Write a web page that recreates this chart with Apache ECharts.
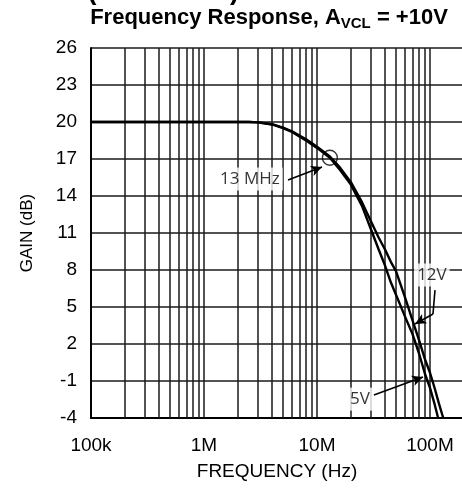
<!DOCTYPE html>
<html><head><meta charset="utf-8">
<script src="https://cdn.jsdelivr.net/npm/echarts@6/dist/echarts.min.js"></script>
<style>html,body{margin:0;padding:0;background:#fff}#c{width:462px;height:491px}</style>
</head><body><div id="c"></div>
<script>
// ---- data (frequency in Hz, gain in dB) ----
const freq5V  = [1e5, 1e6, 2.5e6, 3e6, 4e6, 5e6, 6e6, 8e6, 10e6, 13e6, 16e6, 20e6, 25e6, 30e6, 35e6, 40e6, 45e6, 50e6, 60e6, 70e6, 80e6, 90e6, 100e6, 110e6, 118e6];
const gain5V  = [20, 20, 20, 19.97, 19.8, 19.5, 19.2, 18.5, 17.9, 17.1, 16.1, 14.9, 13.2, 11.3, 9.7, 8.36, 7.0, 6.0, 4.24, 2.8, 1.23, -0.39, -1.56, -2.9, -4];
const freq12V = [1e5, 1e6, 2.5e6, 3e6, 4e6, 5e6, 6e6, 8e6, 10e6, 13e6, 16e6, 20e6, 25e6, 30e6, 35e6, 40e6, 45e6, 50e6, 60e6, 70e6, 80e6, 90e6, 100e6, 110e6, 120e6, 131e6];
const gain12V = [20, 20, 20, 19.97, 19.82, 19.55, 19.25, 18.6, 18.0, 17.2, 16.3, 15.1, 13.5, 11.95, 10.66, 9.66, 8.66, 7.91, 5.8, 3.92, 2.32, 0.79, -0.33, -1.59, -2.84, -4];
const xTickLabels = {1e5: '100k', 1e6: '1M', 1e7: '10M', 1e8: '100M', 1e9: '1G'};
const yTicks = [-4, -1, 2, 5, 8, 11, 14, 17, 20, 23, 26];
const cornerPoint = [13e6, 17.1];
const annotText = ['13 MHz', '12V', '5V'];
const annotPos = [[2.55e6, 15.38], [104e6, 7.59], [24e6, -2.47]];
const arrows = [
  [[5.54e6, 15.29], [11.07e6, 16.35], true],
  [[110.7e6, 6.37], [106.3e6, 4.43], false],
  [[106.3e6, 4.43], [73.7e6, 3.62], true],
  [[31.9e6, -2.14], [86.7e6, -0.68], true]
];
// minor log grid lines (2..9 x each decade)
const minorGrid = [];
[1e5, 1e6, 1e7, 1e8].forEach(d => { for (let m = 2; m <= 9; m++) minorGrid.push(m * d); });

const chart = echarts.init(document.getElementById('c'), null, {renderer: 'canvas'});
const gridCol = '#1a1a1a';
chart.setOption({
  animation: false,
  backgroundColor: '#fff',
  grid: {left: 91, top: 48, width: 452, height: 370, containLabel: false, outerBoundsMode: 'none'},
  xAxis: {
    type: 'log', logBase: 10, min: 1e5, max: 1e9,
    axisLine: {show: true, onZero: false, lineStyle: {color: '#000', width: 2}},
    axisTick: {show: false},
    axisLabel: {fontFamily: 'Liberation Sans', fontSize: 19, color: '#000', margin: 18,
      formatter: v => xTickLabels[Math.round(v)] || ''},
    splitLine: {show: true, lineStyle: {color: gridCol, width: 1.5}},
    minorTick: {show: false}, minorSplitLine: {show: false}
  },
  yAxis: {
    type: 'value', min: -4, max: 26, interval: 3,
    name: 'GAIN (dB)', nameLocation: 'middle', nameGap: 55,
    nameTextStyle: {fontFamily: 'Liberation Sans', fontSize: 17, color: '#000'},
    axisLine: {show: true, onZero: false, lineStyle: {color: '#000', width: 2}},
    axisTick: {show: false},
    axisLabel: {fontFamily: 'Liberation Sans', fontSize: 19, color: '#000', margin: 14,
      formatter: v => yTicks.includes(v) ? String(v) : ''},
    splitLine: {show: true, lineStyle: {color: gridCol, width: 1.5}}
  },
  graphic: [
    {type: 'text', x: 239, y: 5, style: {
      text: 'Typical Performance Characteristics (Continued)', align: 'right', verticalAlign: 'bottom',
      font: 'bold 27px "Liberation Sans"', fill: '#000'}},
    {type: 'text', x: 269, y: 18, style: {
      text: '{a|Frequency Response, A}{s|VCL}{a| = +10V}', align: 'center', verticalAlign: 'middle',
      rich: {
        a: {fontFamily: 'Liberation Sans', fontWeight: 'bold', fontSize: 22, lineHeight: 26, fill: '#000', color: '#000'},
        s: {fontFamily: 'Liberation Sans', fontWeight: 'bold', fontSize: 15, lineHeight: 14, verticalAlign: 'bottom', fill: '#000', color: '#000'}
      }}},
    {type: 'text', x: 277, y: 472, style: {
      text: 'FREQUENCY (Hz)', align: 'center', verticalAlign: 'middle',
      font: '19px "Liberation Sans"', fill: '#000'}}
  ],
  series: [
    {type: 'line', name: 'grid', data: [], silent: true,
      markLine: {silent: true, symbol: ['none', 'none'], label: {show: false},
        lineStyle: {color: gridCol, width: 1.5, type: 'solid'},
        data: minorGrid.map(f => ({xAxis: f}))}},
    {type: 'line', name: '5V', data: freq5V.map((f, i) => [f, gain5V[i]]), showSymbol: false,
      lineStyle: {color: '#000', width: 2.4}, z: 5},
    {type: 'line', name: '12V', data: freq12V.map((f, i) => [f, gain12V[i]]), showSymbol: false,
      lineStyle: {color: '#000', width: 2.4}, z: 5},
    {type: 'scatter', data: [cornerPoint], symbol: 'circle', symbolSize: 15, z: 6,
      itemStyle: {color: 'rgba(0,0,0,0)', borderColor: '#000', borderWidth: 1.3}},
    {type: 'line', data: [], z: 7,
      markLine: {silent: true, label: {show: false}, lineStyle: {color: '#000', width: 1.6, type: 'solid'},
        data: arrows.map(a => [{coord: a[0], symbol: 'none'}, {coord: a[1], symbol: a[2] ? 'arrow' : 'none', symbolSize: [8, 11]}])}},
    {type: 'scatter', data: annotPos.map((p, i) => ({value: p, name: annotText[i]})), symbolSize: 0, z: 8,
      label: {show: true, position: 'inside', formatter: p => p.name, fontFamily: 'Open Sans', fontSize: 17,
        color: '#000', backgroundColor: '#fff', padding: [3, 3, 3, 3]}}
  ]
});
</script></body></html>
